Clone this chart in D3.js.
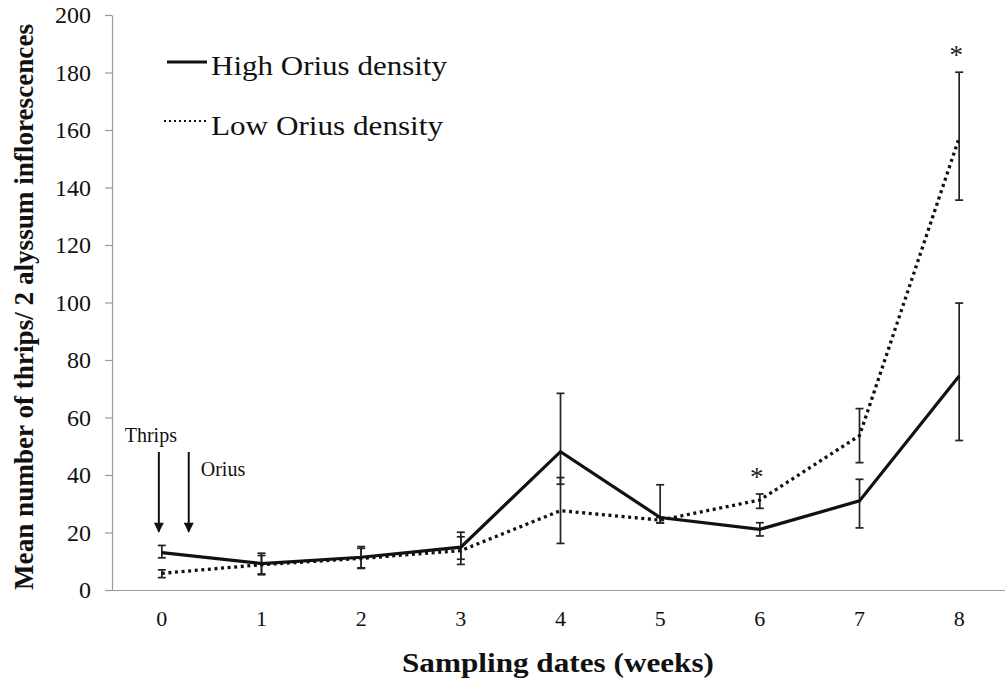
<!DOCTYPE html>
<html>
<head>
<meta charset="utf-8">
<script src="https://cdn.jsdelivr.net/npm/d3@7"></script>
<style>
  html, body { margin: 0; padding: 0; background: #fff; }
  svg { display: block; }
</style>
</head>
<body>
<svg id="chart" width="1005" height="685"></svg>
<script>
// ---- data ----
const weeks = [0, 1, 2, 3, 4, 5, 6, 7, 8];
const tickLabelsX = ["0", "1", "2", "3", "4", "5", "6", "7", "8"];
const tickValuesY = [0, 20, 40, 60, 80, 100, 120, 140, 160, 180, 200];

const highMean    = [13.0, 9.2, 11.4, 14.9, 48.1, 25.2, 21.1, 31.0, 74.4];
const highErrUp   = [2.5, 3.6, 3.7, 5.2, 20.3, 11.4, 2.3, 7.5, 25.4];
const highErrDown = [1.8, 3.6, 3.7, 4.2, 11.3, 1.8, 2.3, 9.4, 22.4];

const lowMean     = [5.8, 8.8, 11.0, 13.7, 27.6, 24.3, 31.3, 53.7, 157.3];
const lowErrUp    = [1.2, 3.2, 3.5, 4.8, 11.5, 1.0, 2.1, 9.4, 22.8];
const lowErrDown  = [1.5, 3.5, 3.5, 4.8, 11.4, 1.0, 2.9, 9.4, 21.7];

const seriesNames = ["High Orius density", "Low Orius density"];
const significantWeeks = [6, 8];

const xTitle = "Sampling dates (weeks)";
const yTitle = "Mean number of thrips/ 2 alyssum inflorescences";

// annotation arrows: week position, start value, end value, label
const arrowWeeks = [-0.03, 0.27];
const arrowLabels = ["Thrips", "Orius"];
const arrowFrom = 48.0, arrowTo = 20.3;

// ---- layout ----
const FONT = "Liberation Serif";
const svg = d3.select("#chart").attr("font-family", FONT);
const mLeft = 112, mRight = 1009, mTop = 15, mBottom = 590;

const x = d3.scaleBand().domain(weeks).range([mLeft, mRight]);
const xc = w => x(w) + x.bandwidth() / 2;
const xLin = d3.scaleLinear().domain([0, 1]).range([xc(0), xc(1)]);
const y = d3.scaleLinear().domain([0, 200]).range([mBottom, mTop]);

const axisColor = "#9a9a9a";

// y axis
const yAxis = svg.append("g")
  .attr("transform", `translate(${mLeft},0)`)
  .call(d3.axisLeft(y).tickValues(tickValuesY).tickSizeOuter(0).tickSizeInner(7).tickPadding(14));
yAxis.attr("font-family", FONT);
yAxis.select(".domain").attr("stroke", axisColor).attr("stroke-width", 1.2);
yAxis.selectAll(".tick line").attr("stroke", axisColor).attr("stroke-width", 1.2);
yAxis.selectAll(".tick text")
  .attr("font-family", FONT).attr("font-size", 24).attr("fill", "#111");

// x axis
const xAxis = svg.append("g")
  .attr("transform", `translate(0,${mBottom})`)
  .call(d3.axisBottom(x).tickFormat((d, i) => tickLabelsX[i]).tickSize(0).tickPadding(20));
xAxis.attr("font-family", FONT);
xAxis.select(".domain").attr("stroke", axisColor).attr("stroke-width", 1.2);
xAxis.selectAll(".tick text")
  .attr("font-family", FONT).attr("font-size", 22).attr("fill", "#111");

// axis titles
svg.append("text")
  .attr("x", 558).attr("y", 672)
  .attr("text-anchor", "middle").attr("font-family", FONT).attr("fill", "#111")
  .attr("font-size", 27).attr("font-weight", "bold")
  .attr("textLength", 312).attr("lengthAdjust", "spacingAndGlyphs")
  .text(xTitle);

svg.append("text")
  .attr("transform", `translate(33,${(590 + 24) / 2}) rotate(-90)`)
  .attr("text-anchor", "middle").attr("font-family", FONT).attr("fill", "#111")
  .attr("font-size", 27).attr("font-weight", "bold")
  .attr("textLength", 566).attr("lengthAdjust", "spacingAndGlyphs")
  .text(yTitle);

// error bars
function errorBars(mean, up, down, cls) {
  const g = svg.append("g").attr("class", cls)
    .attr("stroke", "#222").attr("stroke-width", 1.7);
  weeks.forEach((w, i) => {
    const cx = xc(w);
    const yt = y(mean[i] + up[i]);
    const yb = y(mean[i] - down[i]);
    g.append("line").attr("x1", cx).attr("x2", cx).attr("y1", yt).attr("y2", yb);
    g.append("line").attr("x1", cx - 4).attr("x2", cx + 4).attr("y1", yt).attr("y2", yt);
    g.append("line").attr("x1", cx - 4).attr("x2", cx + 4).attr("y1", yb).attr("y2", yb);
  });
}
errorBars(highMean, highErrUp, highErrDown, "err-high");
errorBars(lowMean, lowErrUp, lowErrDown, "err-low");

// lines
const line = d3.line().x((d, i) => xc(weeks[i])).y(d => y(d));
svg.append("path").datum(lowMean)
  .attr("d", line).attr("fill", "none")
  .attr("stroke", "#111").attr("stroke-width", 3.3)
  .attr("stroke-dasharray", "3 3.6");
svg.append("path").datum(highMean)
  .attr("d", line).attr("fill", "none")
  .attr("stroke", "#111").attr("stroke-width", 3.2)
  .attr("stroke-linejoin", "miter");

// significance asterisks
significantWeeks.forEach(w => {
  const i = weeks.indexOf(w);
  const barTop = Math.max(lowMean[i] + lowErrUp[i], highMean[i] + highErrUp[i]);
  svg.append("text")
    .attr("x", xc(w) - 3).attr("y", y(barTop) - 20 + 12)
    .attr("text-anchor", "middle").attr("font-family", FONT)
    .attr("font-size", 27).attr("fill", "#222")
    .text("*");
});

// annotation arrows
const defs = svg.append("defs");
defs.append("marker").attr("id", "arrowhead")
  .attr("viewBox", "0 0 10 10").attr("refX", 9).attr("refY", 5)
  .attr("markerWidth", 5.5).attr("markerHeight", 5).attr("markerUnits", "strokeWidth")
  .attr("orient", "auto")
  .append("path").attr("d", "M0,0 L10,5 L0,10 Z").attr("fill", "#111");

arrowWeeks.forEach((w, i) => {
  svg.append("line")
    .attr("x1", xLin(w)).attr("x2", xLin(w))
    .attr("y1", y(arrowFrom)).attr("y2", y(arrowTo))
    .attr("stroke", "#111").attr("stroke-width", 2)
    .attr("marker-end", "url(#arrowhead)");
});
svg.append("text")
  .attr("x", xLin(arrowWeeks[0]) - 8).attr("y", y(arrowFrom) - 10)
  .attr("text-anchor", "middle").attr("font-family", FONT).attr("font-size", 20).attr("fill", "#111")
  .text(arrowLabels[0]);
svg.append("text")
  .attr("x", xLin(arrowWeeks[1]) + 12).attr("y", y(arrowFrom) + 24)
  .attr("text-anchor", "start").attr("font-family", FONT).attr("font-size", 20).attr("fill", "#111")
  .text(arrowLabels[1]);

// legend
const legend = svg.append("g").attr("font-family", FONT);
legend.append("line").attr("x1", 167).attr("x2", 207).attr("y1", 62).attr("y2", 62)
  .attr("stroke", "#111").attr("stroke-width", 3);
legend.append("text").attr("x", 211).attr("y", 75).attr("fill", "#111").attr("font-family", FONT)
  .attr("font-size", 28).attr("textLength", 236).attr("lengthAdjust", "spacingAndGlyphs")
  .text(seriesNames[0]);
legend.append("line").attr("x1", 164).attr("x2", 206).attr("y1", 121).attr("y2", 121)
  .attr("stroke", "#111").attr("stroke-width", 2.2).attr("stroke-dasharray", "2 3");
legend.append("text").attr("x", 211).attr("y", 135).attr("fill", "#111").attr("font-family", FONT)
  .attr("font-size", 28).attr("textLength", 232).attr("lengthAdjust", "spacingAndGlyphs")
  .text(seriesNames[1]);
</script>
</body>
</html>
